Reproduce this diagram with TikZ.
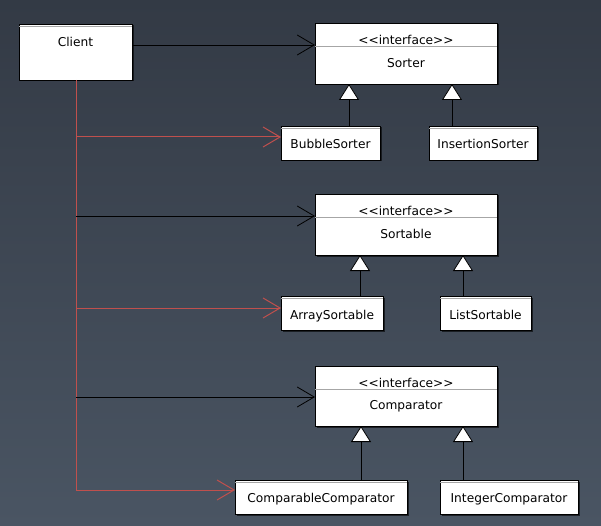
\documentclass[tikz,border=0pt]{standalone}
\usepackage{fontspec}
\setmainfont{DejaVu Sans}
\usetikzlibrary{arrows.meta,shadows}
\definecolor{bgtop}{HTML}{333A45}
\definecolor{bgbot}{HTML}{4A5563}
\definecolor{assoc}{HTML}{C0504D}
\begin{document}
\begin{tikzpicture}[x=1pt,y=-1pt,
  every node/.style={inner sep=0pt,outer sep=0pt,font=\fontsize{12.2}{14}\selectfont},
  umlbox/.style={draw=black,line width=0.9pt,fill=white,rectangle,
    drop shadow={shadow xshift=1.5pt,shadow yshift=-1.5pt,opacity=0.6,fill=black}},
  lbl/.style={anchor=base},
  dep/.style={draw=black,line width=0.8pt,
    -{Straight Barb[length=17pt,width=20pt,line width=0.8pt]}},
  redline/.style={draw=assoc,line width=1pt},
  assocarr/.style={redline,-{Straight Barb[length=17pt,width=20pt,line width=1pt]}},
  inherit/.style={draw=black,line width=0.8pt,-{Triangle[open,length=16pt,width=20pt,fill=white,line width=0.8pt]}},
  compline/.style={draw=gray!70,line width=0.8pt}
]
\useasboundingbox (0,0) rectangle (601,526);
\shade[top color=bgtop,bottom color=bgbot] (0,0) rectangle (601,526);

% Client
\node[umlbox,minimum width=113pt,minimum height=56pt] (client) at (75.5,52) {};
\draw[compline] ([yshift=-2pt]client.north west) -- ([yshift=-2pt]client.north east);
\node[lbl] (clienttxt) at (75.5,47) {Client};

% Interfaces
\node[umlbox,minimum width=182pt,minimum height=61pt] (sorter) at (406,53.5) {};
\draw[compline] (sorter.west |- 0,46) -- (sorter.east |- 0,46);
\node[lbl] (sorterst) at (406,45) {<{}<interface>{}>};
\node[lbl] (sortertxt) at (406,67.5) {Sorter};

\node[umlbox,minimum width=182pt,minimum height=61pt] (sortable) at (406,224.5) {};
\draw[compline] (sortable.west |- 0,217) -- (sortable.east |- 0,217);
\node[lbl] (sortablest) at (406,216) {<{}<interface>{}>};
\node[lbl] (sortabletxt) at (406,238.5) {Sortable};

\node[umlbox,minimum width=182pt,minimum height=60pt] (comparator) at (406,396) {};
\draw[compline] (comparator.west |- 0,389) -- (comparator.east |- 0,389);
\node[lbl] (comparatorst) at (406,387) {<{}<interface>{}>};
\node[lbl] (comparatortxt) at (406,409.5) {Comparator};

% Implementations
\newcommand{\implbox}[4]{%
  \node[umlbox,minimum width=#3pt,minimum height=34pt] (#1) at (#2) {};
  \draw[compline] ([yshift=-2pt]#1.north west) -- ([yshift=-2pt]#1.north east);
  \node[lbl] (#1txt) at ([yshift=-5.5pt]#1.center) {#4};
}
\implbox{bubble}{330.5,143}{99}{BubbleSorter}
\implbox{insertion}{483,143}{108}{InsertionSorter}
\implbox{array}{332,313.5}{102}{ArraySortable}
\implbox{list}{485.5,313.5}{91}{ListSortable}
\implbox{compcomp}{321,497}{172}{ComparableComparator}
\implbox{intcomp}{509,497}{138}{IntegerComparator}

% Inheritance
\draw[inherit] (bubble.north -| 349,0) -- (sorter.south -| 349,0);
\draw[inherit] (insertion.north -| 452,0) -- (sorter.south -| 452,0);
\draw[inherit] (array.north -| 360,0) -- (sortable.south -| 360,0);
\draw[inherit] (list.north -| 463,0) -- (sortable.south -| 463,0);
\draw[inherit] (compcomp.north -| 361,0) -- (comparator.south -| 361,0);
\draw[inherit] (intcomp.north -| 463,0) -- (comparator.south -| 463,0);

% Client dependencies
\coordinate (trunkend) at (76,490);
\draw[redline] (client.south -| 76,0) -- (trunkend);
\draw[dep] (client.east |- 0,45) -- (sorter.west |- 0,45);
\draw[dep] (76,216) -- (sortable.west |- 0,216);
\draw[dep] (76,397) -- (comparator.west |- 0,397);
\draw[assocarr] (76,137) -- (bubble.west |- 0,137);
\draw[assocarr] (76,308) -- (array.west |- 0,308);
\draw[assocarr] (trunkend) -- (compcomp.west |- 0,490);
\end{tikzpicture}
\end{document}
